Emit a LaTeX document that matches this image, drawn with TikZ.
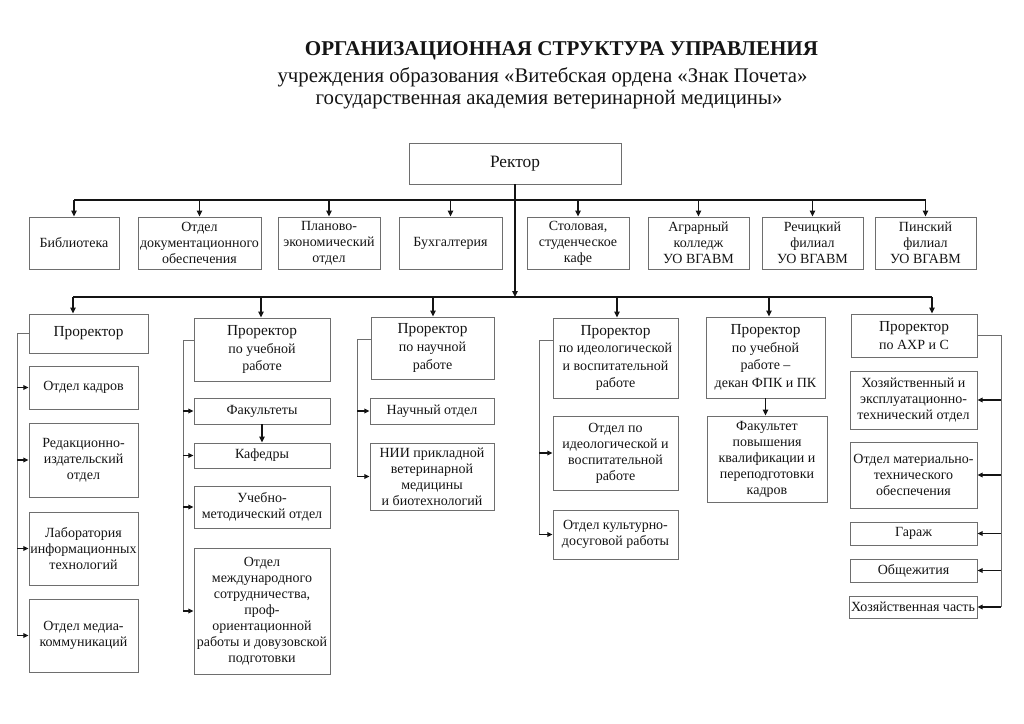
\documentclass[tikz,border=0pt]{standalone}
\usepackage{fontspec}
\setmainfont{Liberation Serif}
\usepackage{tikz}
\usetikzlibrary{arrows.meta}
\definecolor{frame}{HTML}{6E6E6E}
\definecolor{ink}{HTML}{141414}
\newcommand{\prorector}{{\fontsize{11.5}{13}\selectfont Проректор}}
\tikzset{
  box/.style={draw=frame, line width=0.6pt, align=center, inner sep=1pt, text=ink,
    font=\fontsize{10.5}{12}\selectfont},
  head/.style={box, font=\fontsize{10.5}{13.2}\selectfont},
  bus/.style={draw=ink, line width=1.1pt},
  arr/.style={draw=ink, line width=1.1pt, -{Triangle[length=4.5pt,width=4pt]}},
  side/.style={draw=frame, line width=0.6pt},
  sarr/.style={draw=ink, line width=1pt, -{Triangle[length=4pt,width=3.5pt]}}
}

\begin{document}
\begin{tikzpicture}[x=0.75pt,y=-0.75pt]
  \useasboundingbox (0,0) rectangle (1024,724);

  % title
  \node[text=ink, font=\fontsize{15.8}{19}\selectfont\bfseries] (title) at (561.5,51) {ОРГАНИЗАЦИОННАЯ СТРУКТУРА УПРАВЛЕНИЯ};
  \node[text=ink, font=\fontsize{15.6}{19}\selectfont] (sub1) at (542.5,77) {учреждения образования «Витебская ордена «Знак Почета»};
  \node[text=ink, font=\fontsize{15.6}{19}\selectfont] (sub2) at (549,100) {государственная академия ветеринарной медицины»};

  \node[box, font=\fontsize{13}{15}\selectfont, minimum width=159pt, minimum height=30.75pt] (rector) at (515,163.5) {Ректор};

  % first row
  \node[box, minimum width=67.5pt, minimum height=39pt] (lib) at (74,243) {Библиотека};
  \node[box, minimum width=92.25pt, minimum height=39pt] (doc) at (199.5,243) {Отдел\\документационного\\обеспечения};
  \node[box, minimum width=76.5pt, minimum height=39pt] (plan) at (329,243) {Планово-\\экономический\\отдел};
  \node[box, minimum width=77.25pt, minimum height=39pt] (buh) at (450.5,243) {Бухгалтерия};
  \node[box, minimum width=76.5pt, minimum height=39pt] (stol) at (578,243) {Столовая,\\студенческое\\кафе};
  \node[box, minimum width=75.75pt, minimum height=39pt] (agr) at (698.5,243) {Аграрный\\колледж\\УО ВГАВМ};
  \node[box, minimum width=75.75pt, minimum height=39pt] (rech) at (812.5,243) {Речицкий\\филиал\\УО ВГАВМ};
  \node[box, minimum width=75.75pt, minimum height=39pt] (pin) at (925.5,243) {Пинский\\филиал\\УО ВГАВМ};

  % prorectors
  \node[head, minimum width=89.25pt, minimum height=29.25pt] (pr1) at (88.5,333.5) {\prorector};
  \node[head, minimum width=102pt, minimum height=47.25pt] (pr2) at (262,349.5) {\prorector\\по учебной\\работе};
  \node[head, minimum width=92.25pt, minimum height=46.5pt] (pr3) at (432.5,348) {\prorector\\по научной\\работе};
  \node[head, minimum width=93.75pt, minimum height=60pt] (pr4) at (615.5,358) {\prorector\\по идеологической\\и воспитательной\\работе};
  \node[head, minimum width=89.25pt, minimum height=60.75pt] (pr5) at (765.5,357.5) {\prorector\\по учебной\\работе --\\декан ФПК и ПК};
  \node[head, minimum width=94.5pt, minimum height=32.25pt] (pr6) at (914,335.5) {\prorector\\по АХР и С};

  % column 1
  \node[box, minimum width=81.75pt, minimum height=32.25pt] (kadr) at (83.5,387.5) {Отдел кадров};
  \node[box, minimum width=81.75pt, minimum height=55.5pt] (red) at (83.5,460) {Редакционно-\\издательский\\отдел};
  \node[box, minimum width=81.75pt, minimum height=54.75pt] (lab) at (83.5,548.5) {Лаборатория\\информационных\\технологий};
  \node[box, minimum width=81.75pt, minimum height=54.75pt] (media) at (83.5,635.5) {Отдел медиа-\\коммуникаций};

  % column 2
  \node[box, minimum width=102pt, minimum height=19.5pt] (fak) at (262,411) {Факультеты};
  \node[box, minimum width=102pt, minimum height=18.75pt] (kaf) at (262,455.5) {Кафедры};
  \node[box, minimum width=102pt, minimum height=31.5pt] (umo) at (262,507) {Учебно-\\методический отдел};
  \node[box, minimum width=102pt, minimum height=94.5pt] (mezh) at (262,611) {Отдел\\международного\\сотрудничества,\\проф-\\ориентационной\\работы и довузовской\\подготовки};

  % column 3
  \node[box, minimum width=93pt, minimum height=19.5pt] (nauch) at (432,411) {Научный отдел};
  \node[box, minimum width=93pt, minimum height=50.25pt] (nii) at (432,476.5) {НИИ прикладной\\ветеринарной\\медицины\\и биотехнологий};

  % column 4
  \node[box, minimum width=93.75pt, minimum height=55.5pt] (oid) at (615.5,453) {Отдел по\\идеологической и\\воспитательной\\работе};
  \node[box, minimum width=93.75pt, minimum height=36.75pt] (kult) at (615.5,534.5) {Отдел культурно-\\досуговой работы};

  % column 5
  \node[box, minimum width=90pt, minimum height=64.5pt] (fpk) at (767,459) {Факультет\\повышения\\квалификации и\\переподготовки\\кадров};

  % column 6
  \node[box, minimum width=95.25pt, minimum height=43.5pt] (hoz) at (913.5,400) {Хозяйственный и\\эксплуатационно-\\технический отдел};
  \node[box, minimum width=95.25pt, minimum height=49.5pt] (mto) at (913.5,475) {Отдел материально-\\технического\\обеспечения};
  \node[box, minimum width=95.25pt, minimum height=17.25pt] (gar) at (913.5,533.5) {Гараж};
  \node[box, minimum width=95.25pt, minimum height=17.25pt] (obsh) at (913.5,570.5) {Общежития};
  \node[box, minimum width=96pt, minimum height=16.5pt] (hch) at (913,607) {Хозяйственная часть};

  % buses
  \coordinate (bar1) at (516,200);
  \draw[bus] (lib.north |- bar1) -- (pin.north |- bar1);
  \foreach \n in {lib,doc,plan,buh,stol,agr,rech,pin}
    \draw[arr] (\n.north |- bar1) -- (\n.north);

  \foreach \p/\x in {pr1/73,pr2/261,pr3/433,pr4/617,pr5/769,pr6/932}{
    \coordinate (t\p) at (\x,297);
    \draw[arr] (t\p) -- (t\p |- \p.north);
  }
  \draw[bus] (tpr1) -- (tpr6);
  \draw[arr] (rector.south) -- (rector.south |- tpr1);

  % side lines
  \coordinate (c1) at (17,0);
  \draw[side] (pr1.west) -- (pr1.west -| c1) -- (media.west -| c1);
  \foreach \n in {kadr,red,lab,media}
    \draw[sarr] (\n.west -| c1) -- (\n.west);

  \coordinate (c2) at (183,0);
  \draw[side] ([yshift=-17pt]pr2.north west) -- ([yshift=-17pt]pr2.north west -| c2) -- (mezh.west -| c2);
  \foreach \n in {fak,kaf,umo,mezh}
    \draw[sarr] (\n.west -| c2) -- (\n.west);
  \draw[arr] (fak.south) -- (kaf.north);

  \coordinate (c3) at (357,0);
  \draw[side] ([yshift=-17pt]pr3.north west) -- ([yshift=-17pt]pr3.north west -| c3) -- (nii.west -| c3);
  \foreach \n in {nauch,nii}
    \draw[sarr] (\n.west -| c3) -- (\n.west);

  \coordinate (c4) at (539,0);
  \draw[side] ([yshift=-17pt]pr4.north west) -- ([yshift=-17pt]pr4.north west -| c4) -- (kult.west -| c4);
  \foreach \n in {oid,kult}
    \draw[sarr] (\n.west -| c4) -- (\n.west);

  \draw[arr] (pr5.south) -- (pr5.south |- fpk.north);

  \coordinate (c6) at (1001,0);
  \draw[side] (pr6.east) -- (pr6.east -| c6) -- (hch.east -| c6);
  \foreach \n in {hoz,mto,gar,obsh,hch}
    \draw[sarr] (\n.east -| c6) -- (\n.east);
\end{tikzpicture}
\end{document}
